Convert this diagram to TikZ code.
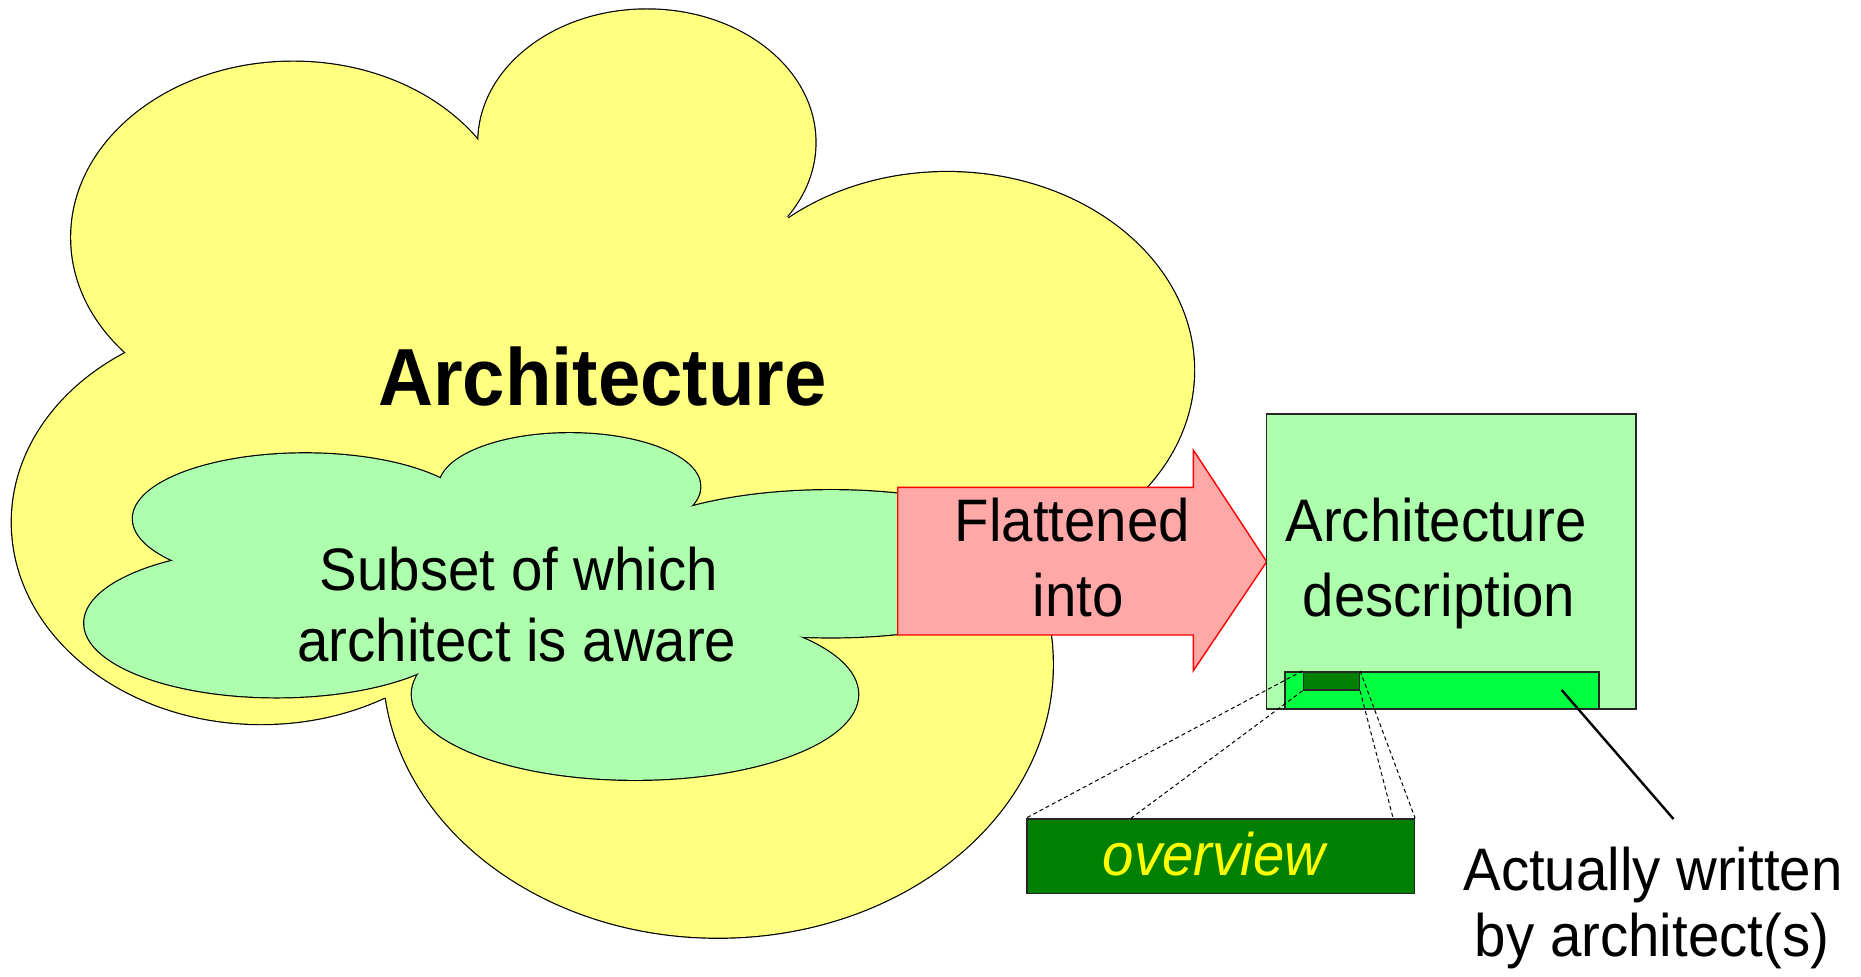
\documentclass[tikz,border=0pt]{standalone}
\usepackage{fontspec}
\setmainfont{Liberation Sans}[FakeStretch=0.94]
\definecolor{cloudyellow}{RGB}{255,255,128}
\definecolor{lightgreen}{RGB}{173,255,173}
\definecolor{pinkfill}{RGB}{255,168,168}
\definecolor{brightgreen}{RGB}{0,255,64}
\definecolor{darkgreen}{RGB}{0,128,0}
\definecolor{ovyellow}{RGB}{255,255,0}
\begin{document}
\begin{tikzpicture}[x=1pt,y=-1pt,
  txt/.style={inner sep=0pt, anchor=base, font=\fontsize{60}{72}\selectfont},
  lobestroke/.style={draw=black, line width=2.4pt},
  boxline/.style={draw=black!85, line width=1.6pt, inner sep=0pt},
  zoomline/.style={draw=black, line width=1pt, dash pattern=on 4pt off 3pt},
  arrowshape/.style={draw=red, line width=1.4pt, fill=pinkfill, line join=miter}]
\useasboundingbox (0,0) rectangle (1861,977);
\fill[white] (0,0) rectangle (1861,977);

\begin{scope}[scale=1.1869]
% big yellow cloud: union of elliptical lobes
\foreach \cx/\cy/\rx/\ry in {247/200/187/148, 545/120/142/112, 798/312/208/167, 605/560/282/230, 220/440/210/170}
  \draw[lobestroke] (\cx,\cy) ellipse [x radius=\rx, y radius=\ry];
\foreach \cx/\cy/\rx/\ry in {247/200/187/148, 545/120/142/112, 798/312/208/167, 605/560/282/230, 220/440/210/170}
  \fill[cloudyellow] (\cx,\cy) ellipse [x radius=\rx, y radius=\ry];
\fill[cloudyellow] (106,299) -- (404,118) -- (663,182) -- (850,465) -- (324,588) -- cycle;
% green cloud: union of elliptical lobes
\foreach \cx/\cy/\rx/\ry in {257/437/145/55, 480/410/110/45, 700/475/187/62, 535/585/188/72, 233/525/162/62.5}
  \draw[lobestroke] (\cx,\cy) ellipse [x radius=\rx, y radius=\ry];
\foreach \cx/\cy/\rx/\ry in {257/437/145/55, 480/410/110/45, 700/475/187/62, 535/585/188/72, 233/525/162/62.5}
  \fill[lightgreen] (\cx,\cy) ellipse [x radius=\rx, y radius=\ry];
\fill[lightgreen] (148,472) -- (370,405) -- (578,428) -- (780,475) -- (676,535) -- (352,566) -- cycle;
\end{scope}

% arrow
\path[arrowshape] (897.7,487.3) -- (1193.3,487.3) -- (1193.3,450) -- (1266.7,561.7)
  -- (1193.3,670.7) -- (1193.3,635) -- (897.7,635) -- cycle;

% description box and bars
\node[boxline, fill=lightgreen, minimum width=369.3pt, minimum height=294.8pt] (descbox) at (1451.05,561.6) {};
\node[boxline, fill=brightgreen, minimum width=314pt, minimum height=37.3pt] (bar) at (1442,690.35) {};
\node[boxline, fill=darkgreen, minimum width=56pt, minimum height=18.3pt] (dark) at (1331.3,680.85) {};
\node[boxline, fill=darkgreen, minimum width=387.6pt, minimum height=74.3pt] (ovbox) at (1220.5,856.15) {};

\coordinate (ovinL) at (1130,819);
\coordinate (ovinR) at (1393.3,819);
\draw[zoomline] (dark.north west) -- (ovbox.north west);
\draw[zoomline] (dark.south west) -- (ovinL);
\draw[zoomline] (dark.north east) -- (ovbox.north east);
\draw[zoomline] (dark.south east) -- (ovinR);

\coordinate (barpt) at (1561.7,690);
\coordinate (lineend) at (1673.5,819);
\draw[line width=2.4pt] (barpt) -- (lineend);

% texts
\node[txt, font=\fontsize{81}{96}\selectfont\bfseries] (arch) at (602.5,405) {Architecture};
\node[txt] (subset1) at (519,590) {Subset of which};
\node[txt] (subset2) at (517,661.7) {architect is aware};
\node[txt] (flat1) at (1072.5,541.7) {Flattened};
\node[txt] (flat2) at (1078,616.7) {into};
\node[txt] (desc1) at (1436,541.7) {Architecture};
\node[txt] (desc2) at (1439,616.7) {description};
\node[txt, text=ovyellow, font=\fontsize{60}{72}\selectfont\itshape] (ov) at (1214,875) {overview};
\node[txt] (act1) at (1653,890) {Actually written};
\node[txt] (act2) at (1652,956.7) {by architect(s)};
\end{tikzpicture}
\end{document}
